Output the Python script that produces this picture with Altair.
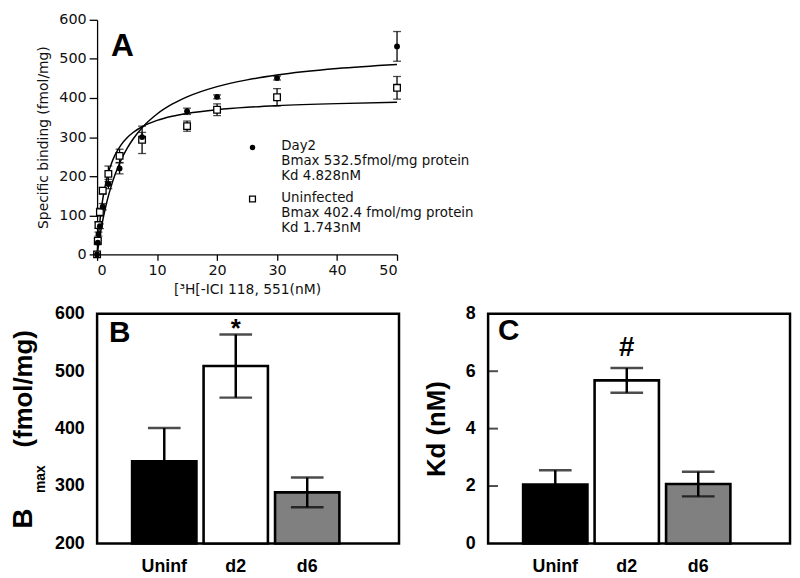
import altair as alt
import pandas as pd

# ---------------- Panel A data ----------------
conc = [0, 0.12, 0.23, 0.47, 0.94, 1.88, 3.75, 7.5, 15, 20, 30, 50]
day2_bind = [0, 30, 52, 72, 122, 180, 220, 300, 366, 403, 451, 532]
day2_err = [0, 5, 5, 6, 8, 12, 14, 12, 8, 5, 5, 38]
uninf_bind = [0, 35, 75, 108, 163, 206, 252, 293, 328, 370, 402, 426]
uninf_err = [0, 6, 8, 10, 8, 20, 17, 35, 13, 15, 22, 29]

fit_conc = [0, 0.1, 0.25, 0.5, 0.75, 1, 1.5, 2, 2.5, 3, 4, 5, 6, 7.5, 10, 12.5, 15, 20, 25, 30, 40, 50]
day2_fit = [0, 10.8, 26.2, 50.0, 71.6, 91.4, 126.2, 156.0, 181.7, 204.1, 241.3, 270.9, 295.1, 324.0,
            359.1, 384.1, 402.8, 429.0, 446.3, 458.7, 475.2, 485.6]
uninf_fit = [0, 21.8, 50.5, 89.7, 121.1, 146.7, 186.1, 215.0, 237.1, 254.5, 280.3, 298.4, 311.8, 326.5,
             342.7, 353.2, 360.5, 370.1, 376.2, 380.3, 385.6, 388.9]

legend_day2 = ["Day2", "Bmax 532.5fmol/mg protein", "Kd 4.828nM"]
legend_uninf = ["Uninfected", "Bmax 402.4 fmol/mg protein", "Kd 1.743nM"]

# ---------------- Panels B / C data ----------------
groups = ["Uninf", "d2", "d6"]
bmax = [343, 509, 289]
bmax_err = [58, 55, 26]
kd = [2.05, 5.68, 2.07]
kd_err = [0.5, 0.43, 0.43]
bar_colors = ["black", "white", "#808080"]

FA = "DejaVu Sans"
FB = "Liberation Sans"

# ---------------- Panel A ----------------
dfA = pd.DataFrame({
    "conc": conc * 2,
    "value": day2_bind + uninf_bind,
    "err": day2_err + uninf_err,
    "series": ["Day2"] * len(conc) + ["Uninfected"] * len(conc),
})
dfA["lo"] = dfA["value"] - dfA["err"]
dfA["hi"] = dfA["value"] + dfA["err"]
dfFit = pd.DataFrame({
    "conc": fit_conc * 2,
    "value": day2_fit + uninf_fit,
    "series": ["Day2"] * len(fit_conc) + ["Uninfected"] * len(fit_conc),
})

xscaleA = alt.Scale(domain=[0, 50], nice=False, zero=False)
yscaleA = alt.Scale(domain=[0, 600], nice=False)
xaxA = alt.Axis(values=[0, 10, 20, 30, 40, 50], title="[³H[-ICI 118, 551(nM)", grid=False,
                labelFont=FA, labelFontSize=14.5, labelColor="#111", labelPadding=3,
                tickSize=6, tickColor="black", tickWidth=1.3, domainColor="black", domainWidth=1.3,
                titleFont=FA, titleFontSize=14, titleFontWeight="normal", titleColor="#111", titlePadding=6)
yaxA = alt.Axis(values=[0, 100, 200, 300, 400, 500, 600], title="Specific binding (fmol/mg)", grid=False,
                labelFont=FA, labelFontSize=14.5, labelColor="#111", labelPadding=3,
                tickSize=8, tickColor="black", tickWidth=1.3, domainColor="black", domainWidth=1.3,
                titleFont=FA, titleFontSize=14, titleFontWeight="normal", titleColor="#111", titlePadding=8)

def xa(f):
    return alt.X(f, scale=xscaleA, axis=xaxA)

def ya(f):
    return alt.Y(f, scale=yscaleA, axis=yaxA)

curves = alt.Chart(dfFit).mark_line(color="black", strokeWidth=1.5, interpolate="monotone").encode(
    x=xa("conc:Q"), y=ya("value:Q"), detail="series:N")
err_rule = alt.Chart(dfA).mark_rule(color="black", strokeWidth=1.3).encode(
    x=xa("conc:Q"), y=ya("lo:Q"), y2="hi:Q")
cap_hi = alt.Chart(dfA).mark_tick(orient="horizontal", size=8, thickness=1.3, color="black").encode(
    x=xa("conc:Q"), y=ya("hi:Q"))
cap_lo = alt.Chart(dfA).mark_tick(orient="horizontal", size=8, thickness=1.3, color="black").encode(
    x=xa("conc:Q"), y=ya("lo:Q"))
pts_un = alt.Chart(dfA).transform_filter("datum.series == 'Uninfected'").mark_point(
    shape="square", filled=True, fill="white", stroke="black", strokeWidth=1.3, size=45, opacity=1).encode(
    x=xa("conc:Q"), y=ya("value:Q"))
pts_d2 = alt.Chart(dfA).transform_filter("datum.series == 'Day2'").mark_point(
    shape="circle", filled=True, color="black", size=35, opacity=1).encode(
    x=xa("conc:Q"), y=ya("value:Q"))

one = pd.DataFrame({"k": [0]})
leg_pt_d2 = alt.Chart(one).mark_point(shape="circle", filled=True, color="black", size=30, opacity=1).encode(
    x=alt.value(157), y=alt.value(129))
leg_pt_un = alt.Chart(one).mark_point(shape="square", filled=True, fill="white", stroke="black",
                                      strokeWidth=1.3, size=35, opacity=1).encode(
    x=alt.value(157), y=alt.value(181))
leg_tx_d2 = alt.Chart(one).mark_text(font=FA, fontSize=13.5, align="left", baseline="top", lineHeight=15,
                                     color="#111").encode(
    x=alt.value(186), y=alt.value(121), text=alt.value(legend_day2))
leg_tx_un = alt.Chart(one).mark_text(font=FA, fontSize=13.5, align="left", baseline="top", lineHeight=15,
                                     color="#111").encode(
    x=alt.value(186), y=alt.value(173), text=alt.value(legend_uninf))
lab_A = alt.Chart(one).mark_text(font=FB, fontSize=32, fontWeight="bold", align="left",
                                 baseline="alphabetic", color="black").encode(
    x=alt.value(14), y=alt.value(37), text=alt.value("A"))

panelA = alt.layer(curves, err_rule, cap_hi, cap_lo, pts_un, pts_d2,
                   leg_pt_d2, leg_pt_un, leg_tx_d2, leg_tx_un, lab_A).properties(
    width=303, height=237, view=alt.ViewBackground(stroke="transparent"))

# ---------------- Panels B / C ----------------
def bar_panel(values, errs, ydomain, yvalues, ytitle, ticks_in, letter, mark_sym, sym_y, sym_size):
    df = pd.DataFrame({"group": groups, "value": values, "err": errs})
    df["lo"] = df["value"] - df["err"]
    df["hi"] = df["value"] + df["err"]
    xs = alt.Scale(domain=groups, paddingInner=0.1, paddingOuter=0.662, align=0.37)
    xax = alt.Axis(title=None, labelAngle=0, ticks=False, domain=False, grid=False,
                   labelFont=FB, labelFontSize=18, labelFontWeight="bold", labelColor="black", labelPadding=14)
    ys = alt.Scale(domain=ydomain, nice=False, zero=False)
    if ytitle:
        yax = alt.Axis(values=yvalues, ticks=False, domain=False, grid=False, title=ytitle,
                       labelFont=FB, labelFontSize=18, labelFontWeight="bold", labelColor="black", labelPadding=13,
                       titleFont=FB, titleFontSize=26, titleFontWeight="bold", titleColor="black", titlePadding=16)
    else:
        yax = alt.Axis(values=yvalues, ticks=False, domain=False, grid=False, title=None,
                       labelFont=FB, labelFontSize=18, labelFontWeight="bold", labelColor="black", labelPadding=13)
    X = alt.X("group:N", sort=groups, scale=xs, axis=xax)

    def Y(f):
        return alt.Y(f, scale=ys, axis=yax)

    base = alt.Chart(df)
    bars = base.mark_bar(stroke="black", strokeWidth=2.6).encode(
        x=X, y=Y("value:Q"), y2=alt.datum(ydomain[0]),
        fill=alt.Fill("group:N", scale=alt.Scale(domain=groups, range=bar_colors), legend=None))
    rule = base.mark_rule(color="black", strokeWidth=2.5).encode(x=X, y=Y("lo:Q"), y2="hi:Q")
    chi = base.mark_tick(orient="horizontal", size=33, thickness=2.5, color="black").encode(x=X, y=Y("hi:Q"))
    clo = base.mark_tick(orient="horizontal", size=33, thickness=2.5, color="black").encode(x=X, y=Y("lo:Q"))
    sig = alt.Chart(pd.DataFrame({"group": ["d2"], "s": [mark_sym]})).mark_text(
        font=FB, fontSize=sym_size, fontWeight="bold", baseline="alphabetic", align="center", color="black").encode(
        x=X, y=alt.value(sym_y), text="s:N")
    let = alt.Chart(one).mark_text(font=FB, fontSize=30, fontWeight="bold", align="left",
                                   baseline="alphabetic", color="black").encode(
        x=alt.value(letter[1]), y=alt.value(letter[2]), text=alt.value(letter[0]))
    layers = [bars, rule, chi, clo, sig, let]
    if ticks_in:
        tk = alt.Chart(pd.DataFrame({"v": ticks_in})).mark_tick(
            orient="horizontal", size=10, thickness=2, color="black").encode(
            y=Y("v:Q"), x=alt.value(5))
        layers.append(tk)
    return layers

layersB = bar_panel(bmax, bmax_err, [200, 600], [200, 300, 400, 500, 600], None, None,
                    ("B", 12, 28), "*", 23, 26)
# B_max title (with subscript) as rotated text
tB = alt.Chart(one).mark_text(font=FB, fontSize=28, fontWeight="bold", angle=270, align="left",
                              baseline="alphabetic", color="black").encode(
    x=alt.value(-66), y=alt.value(217), text=alt.value("B"))
tmax = alt.Chart(one).mark_text(font=FB, fontSize=14, fontWeight="bold", angle=270, align="left",
                                baseline="alphabetic", color="black").encode(
    x=alt.value(-53), y=alt.value(181), text=alt.value("max"))
tunit = alt.Chart(one).mark_text(font=FB, fontSize=26, fontWeight="bold", angle=270, align="left",
                                 baseline="alphabetic", color="black").encode(
    x=alt.value(-66), y=alt.value(135), text=alt.value("(fmol/mg)"))
panelB = alt.layer(*layersB, tB, tmax, tunit).properties(
    width=305, height=232, view=alt.ViewBackground(stroke="black", strokeWidth=2.5))

layersC = bar_panel(kd, kd_err, [0, 8], [0, 2, 4, 6, 8], "Kd (nM)", [2, 4, 6],
                    ("C", 10, 26), "#", 43, 28)
panelC = alt.layer(*layersC).properties(
    width=305, height=232, view=alt.ViewBackground(stroke="black", strokeWidth=2.5))

chart = alt.vconcat(
    panelA,
    alt.hconcat(panelB, panelC, spacing=21),
    spacing=6,
).properties(padding={"left": 0, "top": 0, "right": 0, "bottom": 0}).configure(
    background="white").configure_view(stroke="transparent")

chart.save("out.html", embed_options={"renderer": "svg", "actions": False})
